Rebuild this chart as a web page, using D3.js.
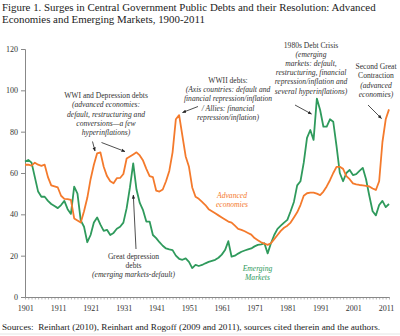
<!DOCTYPE html>
<html><head><meta charset="utf-8">
<script src="https://cdn.jsdelivr.net/npm/d3@7"></script>
<style>
body{margin:0;background:#fff;}
svg{display:block;font-family:"Liberation Serif","Times New Roman",serif;}
</style></head>
<body><svg id="c" width="400" height="336"></svg>
<script>
const years = d3.range(1900, 2012);
const advanced = [64,64,63.6,65,64,63.5,64,58,54,53.5,53,49,47.5,47.4,47,38,37,36,41.5,48,
57,64,69.5,70,63,58.5,56,55,57.5,57.6,59.5,67,68,69,70,68.5,66,62,58.5,58,
51.5,51,52,56,61,70,86,88,78,68,63,53,48.5,47.5,46,44.5,42.5,41.5,40.5,39.5,
38.5,37.5,36.5,36,34.5,33,32.5,31.8,31,30.2,28.5,27.5,26.5,25.8,25.2,26,28,30,32,33.5,
34.5,36,38.5,41,44.5,49,50.2,50.5,50.5,50,49.3,51,53.5,56.5,60,63,63,62,58.5,57,
55,54.5,54.2,54,53.8,53.5,52.5,51.8,56,75,86,90.8];
const emerging = [65.5,66.3,65,58,51,48.5,48.5,46.5,45,44,43,44.5,46.5,42.5,40.2,53.4,50,37,34,26.5,
30,36,38.5,35,32,32.5,30,31,33,34,36,43,53,64.7,52,45.5,42,36.5,36.5,30,
28.5,26.5,24.8,23.5,23,22.7,20,18.5,18,18.7,17,14,15.5,15,15.5,16.3,17,17.5,18,19,
20.5,22.7,27,19.5,20,21,21.9,22.5,23,23.5,24.5,25.2,25.5,26,21.1,26,30,33,34.5,36,
37.3,41.5,46,54,56,65,77,80.8,76,96,90.5,82.4,82.4,86,84.8,73,60,56,60,61.5,
59,59.5,61,62.5,57,49,41.5,39.5,44.5,46.5,43.5,45];
const yTicks = [0,20,40,60,80,100,120];
const xLabels = [1901,1911,1921,1931,1941,1951,1961,1971,1981,1991,2001,2011];
const titleLines = ["Figure 1. Surges in Central Government Public Debts and their Resolution: Advanced",
  "Economies and Emerging Markets, 1900-2011"];
const sourceText = "Sources:  Reinhart (2010), Reinhart and Rogoff (2009 and 2011), sources cited therein and the authors.";

const ORANGE = "#f47a2c", GREEN = "#2f9a5c";
const svg = d3.select("#c");
const x = d3.scaleLinear().domain([1900, 2011]).range([25, 389]);
const y = d3.scaleLinear().domain([0, 120]).range([297, 49]);

svg.append("defs").append("marker").attr("id","ah").attr("viewBox","0 0 10 10")
  .attr("refX",9).attr("refY",5).attr("markerWidth",5).attr("markerHeight",5).attr("orient","auto")
  .append("path").attr("d","M0,1 L10,5 L0,9 Z").attr("fill","#222");

// title
svg.append("g").selectAll("text").data(titleLines).join("text")
  .attr("x",2).attr("y",(d,i)=>11+i*11.5).attr("font-size","10.9px").attr("fill","#222").text(d=>d);

// y axis
const ya = svg.append("g").attr("transform","translate(25,0)")
  .call(d3.axisLeft(y).tickValues(yTicks).tickSize(4).tickPadding(3));
ya.select(".domain").attr("stroke","#888");
ya.selectAll(".tick line").attr("stroke","#888");
ya.selectAll(".tick text").attr("font-family","Liberation Serif").attr("font-size","8px").attr("fill","#333");

// x axis
const xa = svg.append("g").attr("transform","translate(0,297)")
  .call(d3.axisBottom(x).tickValues(years).tickSize(2.5).tickSizeOuter(0).tickFormat(""));
xa.select(".domain").attr("stroke","#888");
xa.selectAll(".tick line").attr("stroke","#888").attr("stroke-width",0.6);
svg.append("g").selectAll("text").data(xLabels).join("text")
  .attr("x",d=>x(d)-2.5).attr("y",311).attr("text-anchor","middle")
  .attr("font-size","8px").attr("fill","#333").text(d=>d);

// lines
const line = d3.line().x((d,i)=>x(years[i])).y(d=>y(d));
svg.append("path").datum(emerging).attr("d",line).attr("fill","none")
  .attr("stroke",GREEN).attr("stroke-width",1.8).attr("stroke-linejoin","round");
svg.append("path").datum(advanced).attr("d",line).attr("fill","none")
  .attr("stroke",ORANGE).attr("stroke-width",1.8).attr("stroke-linejoin","round");

// annotations
function block(lines, cx, y0, dy, fill){
  const g = svg.append("g");
  lines.forEach((l,i)=>{
    g.append("text").attr("x",cx).attr("y",y0+i*dy).attr("text-anchor","middle")
      .attr("font-size","7.6px").attr("fill",fill||"#333")
      .attr("font-style",l[1]?"italic":"normal").text(l[0]);
  });
}
block([["WWI and Depression debts",0],["(advanced economies:",1],["default, restructuring and",1],["conversions\u2014a few",1],["hyperinflations)",1]],106,98,9.3);
block([["WWII debts:",0],["(Axis countries: default and",1],["financial repression/inflation",1],["/ Allies: financial",1],["repression/inflation)",1]],228,83,9.2);
block([["1980s Debt Crisis",0],["(emerging",1],["markets: default,",1],["restructuring, financial",1],["repression/inflation and",1],["several hyperinflations)",1]],311,47.5,9.2);
block([["Second Great",0],["Contraction",0],["(advanced",1],["economies)",1]],376,68.5,9.5);
block([["Great depression",0],["debts",0],["(emerging markets-default)",1]],133.5,258.5,9.2);
block([["Advanced",1],["economies",1]],232,197.5,9,ORANGE);
block([["Emerging",1],["Markets",1]],257.5,270.5,9,GREEN);

const arrows = [[92.5,141.5,95,151],[101.5,142.5,125,151.5],[198,106.5,182.5,112.5],
  [295,105,311.5,114],[368,105,381.5,118.5],[136,249,133.3,195]];
svg.append("g").selectAll("line").data(arrows).join("line")
  .attr("x1",d=>d[0]).attr("y1",d=>d[1]).attr("x2",d=>d[2]).attr("y2",d=>d[3])
  .attr("stroke","#222").attr("stroke-width",0.8).attr("marker-end","url(#ah)");

// sources
svg.append("text").attr("x",2).attr("y",330).attr("font-size","9.2px").attr("fill","#222")
  .attr("xml:space","preserve").style("white-space","pre").text(sourceText);
svg.append("line").attr("x1",0).attr("x2",400).attr("y1",334).attr("y2",334).attr("stroke","#e4e4e4");
</script></body></html>
